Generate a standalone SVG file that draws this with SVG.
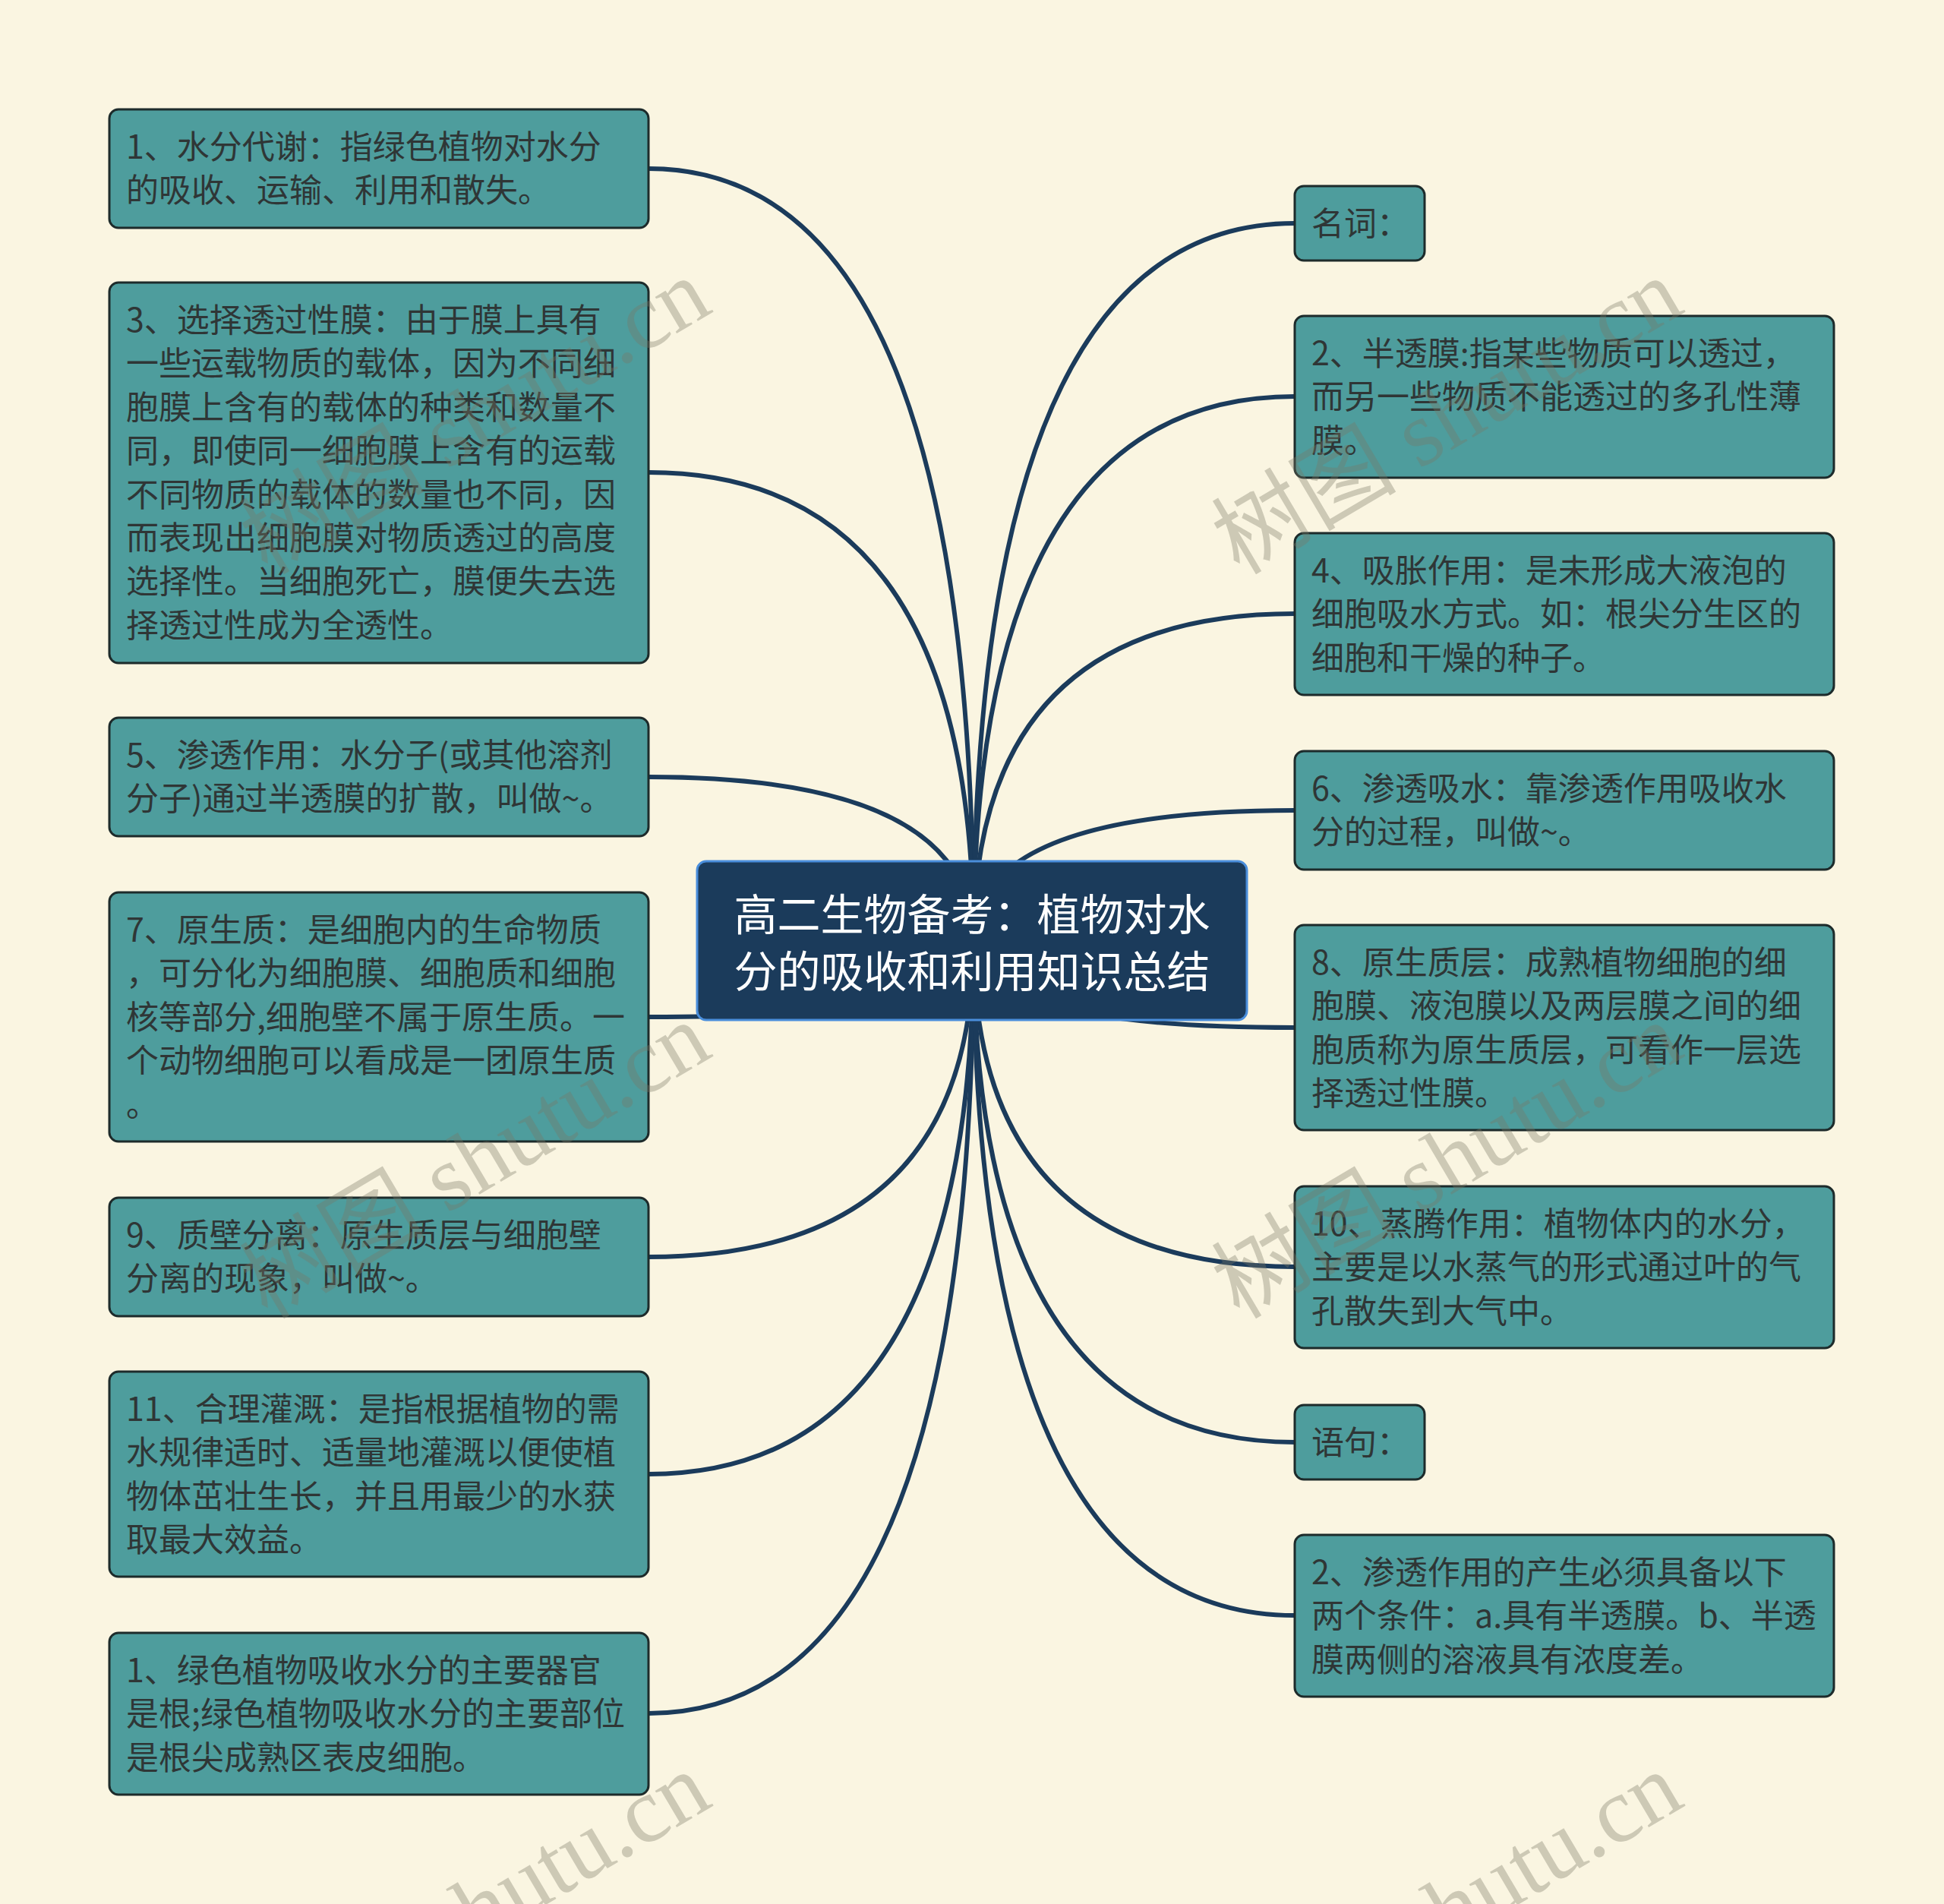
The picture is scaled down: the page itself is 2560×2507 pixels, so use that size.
<svg xmlns="http://www.w3.org/2000/svg" width="2560" height="2507" viewBox="0 0 2560 2507">
<style>
.bg{fill:#faf5e1}
.node rect{fill:#4e9d9d;stroke:#1d2b2b;stroke-width:3}
.node text{font-family:"Noto Sans CJK SC","Noto Sans",sans-serif;font-size:43px;fill:#2f3636}
.center rect{fill:#1b3b5b;stroke:#4a8edb;stroke-width:3}
.center text{font-family:"Noto Sans CJK SC","Noto Sans",sans-serif;font-size:57px;fill:#ffffff;text-anchor:middle}
.conn path{fill:none;stroke:#1b3b5b;stroke-width:6}
.wm text{font-family:"Liberation Serif","Noto Sans CJK SC",serif;font-size:122px;fill:#7a7866;opacity:0.35}
</style>
<rect class="bg" x="0" y="0" width="2560" height="2507"/>
<g id="connectors" class="conn">
<path d="M1282,1240 Q1282,222 854,222"/>
<path d="M1282,1240 Q1282,622 854,622"/>
<path d="M1282,1240 Q1282,1023 854,1023"/>
<path d="M1282,1240 Q1282,1339 854,1339"/>
<path d="M1282,1240 Q1282,1655 854,1655"/>
<path d="M1282,1240 Q1282,1941 854,1941"/>
<path d="M1282,1240 Q1282,2256 854,2256"/>
<path d="M1282,1240 Q1282,294 1705,294"/>
<path d="M1282,1240 Q1282,522 1705,522"/>
<path d="M1282,1240 Q1282,808 1705,808"/>
<path d="M1282,1240 Q1282,1067 1705,1067"/>
<path d="M1282,1240 Q1282,1353 1705,1353"/>
<path d="M1282,1240 Q1282,1668 1705,1668"/>
<path d="M1282,1240 Q1282,1899 1705,1899"/>
<path d="M1282,1240 Q1282,2127 1705,2127"/>
</g>
<g id="center" class="center">
<rect x="918" y="1134" width="724" height="209" rx="12"/>
<text x="1280" y="1225">高二生物备考：植物对水</text>
<text x="1280" y="1300">分的吸收和利用知识总结</text>
</g>
<g id="L1" class="node">
<rect x="144" y="144" width="710" height="156" rx="12"/>
<text x="166" y="209">1、水分代谢：指绿色植物对水分</text>
<text x="166" y="266">的吸收、运输、利用和散失。</text>
</g>
<g id="L3" class="node">
<rect x="144" y="372" width="710" height="501" rx="12"/>
<text x="166" y="437">3、选择透过性膜：由于膜上具有</text>
<text x="166" y="494">一些运载物质的载体，因为不同细</text>
<text x="166" y="552">胞膜上含有的载体的种类和数量不</text>
<text x="166" y="609">同，即使同一细胞膜上含有的运载</text>
<text x="166" y="667">不同物质的载体的数量也不同，因</text>
<text x="166" y="724">而表现出细胞膜对物质透过的高度</text>
<text x="166" y="781">选择性。当细胞死亡，膜便失去选</text>
<text x="166" y="839">择透过性成为全透性。</text>
</g>
<g id="L5" class="node">
<rect x="144" y="945" width="710" height="156" rx="12"/>
<text x="166" y="1010">5、渗透作用：水分子(或其他溶剂</text>
<text x="166" y="1067">分子)通过半透膜的扩散，叫做~。</text>
</g>
<g id="L7" class="node">
<rect x="144" y="1175" width="710" height="328" rx="12"/>
<text x="166" y="1240">7、原生质：是细胞内的生命物质</text>
<text x="166" y="1297">，可分化为细胞膜、细胞质和细胞</text>
<text x="166" y="1355">核等部分,细胞壁不属于原生质。一</text>
<text x="166" y="1412">个动物细胞可以看成是一团原生质</text>
<text x="166" y="1470">。</text>
</g>
<g id="L9" class="node">
<rect x="144" y="1577" width="710" height="156" rx="12"/>
<text x="166" y="1642">9、质壁分离：原生质层与细胞壁</text>
<text x="166" y="1699">分离的现象，叫做~。</text>
</g>
<g id="L11" class="node">
<rect x="144" y="1806" width="710" height="270" rx="12"/>
<text x="166" y="1871">11、合理灌溉：是指根据植物的需</text>
<text x="166" y="1928">水规律适时、适量地灌溉以便使植</text>
<text x="166" y="1986">物体茁壮生长，并且用最少的水获</text>
<text x="166" y="2043">取最大效益。</text>
</g>
<g id="L1b" class="node">
<rect x="144" y="2150" width="710" height="213" rx="12"/>
<text x="166" y="2215">1、绿色植物吸收水分的主要器官</text>
<text x="166" y="2272">是根;绿色植物吸收水分的主要部位</text>
<text x="166" y="2330">是根尖成熟区表皮细胞。</text>
</g>
<g id="R0" class="node">
<rect x="1705" y="245" width="171" height="98" rx="12"/>
<text x="1727" y="310">名词：</text>
</g>
<g id="R2" class="node">
<rect x="1705" y="416" width="710" height="213" rx="12"/>
<text x="1727" y="481">2、半透膜:指某些物质可以透过，</text>
<text x="1727" y="538">而另一些物质不能透过的多孔性薄</text>
<text x="1727" y="596">膜。</text>
</g>
<g id="R4" class="node">
<rect x="1705" y="702" width="710" height="213" rx="12"/>
<text x="1727" y="767">4、吸胀作用：是未形成大液泡的</text>
<text x="1727" y="824">细胞吸水方式。如：根尖分生区的</text>
<text x="1727" y="882">细胞和干燥的种子。</text>
</g>
<g id="R6" class="node">
<rect x="1705" y="989" width="710" height="156" rx="12"/>
<text x="1727" y="1054">6、渗透吸水：靠渗透作用吸收水</text>
<text x="1727" y="1111">分的过程，叫做~。</text>
</g>
<g id="R8" class="node">
<rect x="1705" y="1218" width="710" height="270" rx="12"/>
<text x="1727" y="1283">8、原生质层：成熟植物细胞的细</text>
<text x="1727" y="1340">胞膜、液泡膜以及两层膜之间的细</text>
<text x="1727" y="1398">胞质称为原生质层，可看作一层选</text>
<text x="1727" y="1455">择透过性膜。</text>
</g>
<g id="R10" class="node">
<rect x="1705" y="1562" width="710" height="213" rx="12"/>
<text x="1727" y="1627">10、蒸腾作用：植物体内的水分，</text>
<text x="1727" y="1684">主要是以水蒸气的形式通过叶的气</text>
<text x="1727" y="1742">孔散失到大气中。</text>
</g>
<g id="R11" class="node">
<rect x="1705" y="1850" width="171" height="98" rx="12"/>
<text x="1727" y="1915">语句：</text>
</g>
<g id="R2b" class="node">
<rect x="1705" y="2021" width="710" height="213" rx="12"/>
<text x="1727" y="2086">2、渗透作用的产生必须具备以下</text>
<text x="1727" y="2143">两个条件：a.具有半透膜。b、半透</text>
<text x="1727" y="2201">膜两侧的溶液具有浓度差。</text>
</g>
<g id="watermarks" class="wm">
<text transform="translate(352,758) rotate(-30.6)">树图 shutu.cn</text>
<text transform="translate(1632,758) rotate(-30.6)">树图 shutu.cn</text>
<text transform="translate(352,1738) rotate(-30.6)">树图 shutu.cn</text>
<text transform="translate(1632,1738) rotate(-30.6)">树图 shutu.cn</text>
<text transform="translate(352,2725) rotate(-30.6)">树图 shutu.cn</text>
<text transform="translate(1632,2725) rotate(-30.6)">树图 shutu.cn</text>
</g>
</svg>
